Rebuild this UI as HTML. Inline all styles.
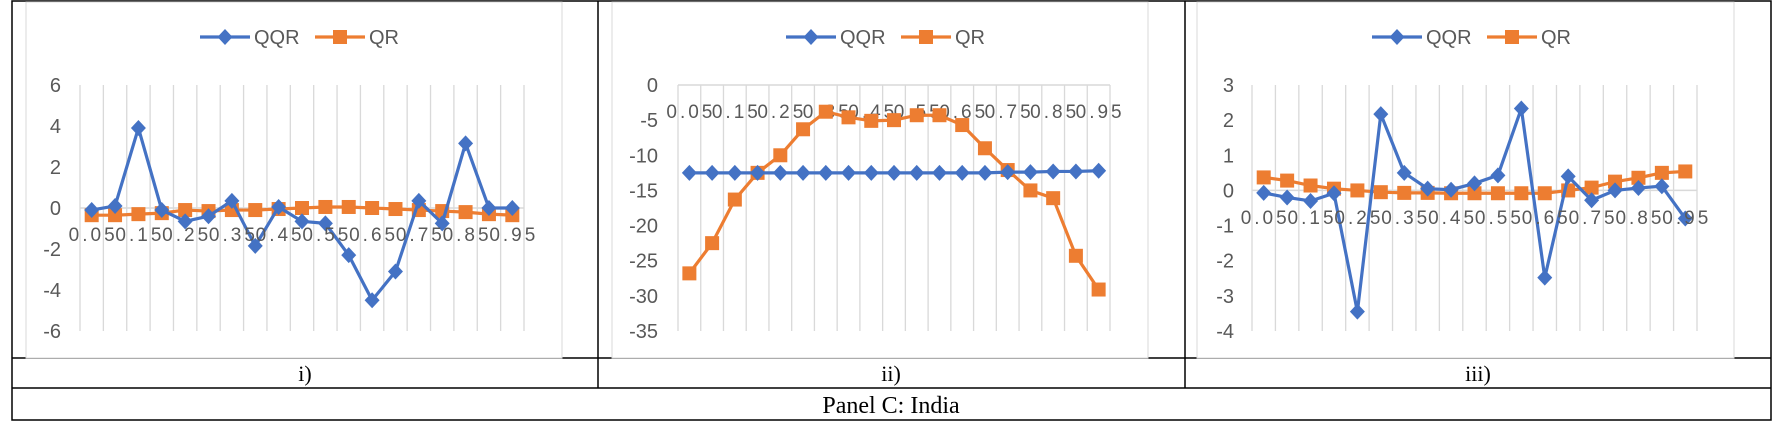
<!DOCTYPE html>
<html><head><meta charset="utf-8"><style>
html,body{margin:0;padding:0;background:#fff;}
svg{display:block;font-family:"Liberation Sans",sans-serif;}
</style></head><body>
<svg id="s" width="1783" height="422" viewBox="0 0 1783 422" xmlns="http://www.w3.org/2000/svg">
<g stroke="#000" stroke-width="1.5" fill="none">
<rect x="12" y="1" width="1759" height="419"/>
<line x1="12" y1="358" x2="1771" y2="358"/>
<line x1="12" y1="388" x2="1771" y2="388"/>
<line x1="598" y1="1" x2="598" y2="388"/>
<line x1="1185" y1="1" x2="1185" y2="388"/>
</g>
<text x="305" y="381" font-family="Liberation Serif,serif" font-size="22" text-anchor="middle">i)</text>
<text x="891" y="381" font-family="Liberation Serif,serif" font-size="22" text-anchor="middle">ii)</text>
<text x="1478" y="381" font-family="Liberation Serif,serif" font-size="22" text-anchor="middle">iii)</text>
<text x="891" y="413" font-family="Liberation Serif,serif" font-size="24" text-anchor="middle">Panel C: India</text>
</svg>
<script>
const categories=["0.05","0.10","0.15","0.20","0.25","0.30","0.35","0.40","0.45","0.50","0.55","0.60","0.65","0.70","0.75","0.80","0.85","0.90","0.95"];
const qqr1=[-0.1,0.1,3.9,-0.1,-0.65,-0.4,0.35,-1.85,0.05,-0.65,-0.75,-2.3,-4.5,-3.1,0.35,-0.75,3.15,0,0];
const qr1=[-0.35,-0.35,-0.3,-0.25,-0.1,-0.15,-0.1,-0.1,-0.05,0,0.05,0.05,0,-0.05,-0.1,-0.15,-0.2,-0.3,-0.35];
const ticks1=[6,4,2,0,-2,-4,-6];
const qqr2=[-12.5,-12.5,-12.5,-12.5,-12.5,-12.5,-12.5,-12.5,-12.5,-12.5,-12.5,-12.5,-12.5,-12.5,-12.4,-12.4,-12.3,-12.3,-12.2];
const qr2=[-26.8,-22.5,-16.3,-12.5,-10,-6.3,-3.8,-4.6,-5.1,-5.0,-4.3,-4.3,-5.7,-9,-12.1,-15,-16.1,-24.3,-29.1];
const ticks2=[0,-5,-10,-15,-20,-25,-30,-35];
const qqr3=[-0.07,-0.2,-0.3,-0.08,-3.45,2.17,0.5,0.05,0.02,0.2,0.43,2.33,-2.48,0.4,-0.28,0,0.07,0.12,-0.8];
const qr3=[0.37,0.28,0.14,0.05,0,-0.05,-0.07,-0.07,-0.08,-0.08,-0.08,-0.08,-0.08,0,0.08,0.25,0.36,0.5,0.54];
const ticks3=[3,2,1,0,-1,-2,-3,-4];

const NS="http://www.w3.org/2000/svg";
const svg=document.getElementById('s');
function mk(tag,attrs,parent){const e=document.createElementNS(NS,tag);for(const k in attrs)e.setAttribute(k,attrs[k]);(parent||svg).appendChild(e);return e;}

function chart(cfg){
  const g=mk('g',{});
  
  
  const area=mk('rect',{x:cfg.ax,y:2,width:cfg.aw,height:356,fill:'#fff',stroke:'#d9d9d9','stroke-width':1},g);
  
  
  const n=categories.length, step=(cfg.px1-cfg.px0)/n;
  const ymax=cfg.ticks[0], ymin=cfg.ticks[cfg.ticks.length-1];
  const xs=i=>cfg.px0+step*(i+0.5);
  const ys=v=>cfg.py0+(ymax-v)/(ymax-ymin)*(cfg.py1-cfg.py0);
  for(let i=0;i<=n;i++){
    const l=mk('line',{x1:cfg.px0+step*i,x2:cfg.px0+step*i,y1:cfg.py0,y2:cfg.py1,stroke:'#d9d9d9','stroke-width':1.3},g);
    
    
  }
  const ax=mk('line',{x1:cfg.px0,x2:cfg.px1,y1:ys(0),y2:ys(0),stroke:'#d9d9d9','stroke-width':1.5},g);
  
  
  cfg.ticks.forEach(t=>{
    const tx=mk('text',{x:cfg.lx,y:ys(t)+7,'text-anchor':'end','font-size':20,fill:'#595959'},g);
    tx.textContent=String(t);
    
    
  });
  const series=[[cfg.qr,'#ed7d31','square','qr'],[cfg.qqr,'#4472c4','diamond','qqr']];
  const drawSeries=(vals,col,shape,nm)=>{
    const pts=vals.map((v,i)=>xs(i)+','+ys(v)).join(' ');
    const pl=mk('polyline',{points:pts,fill:'none',stroke:col,'stroke-width':3.2,'stroke-linejoin':'round'},g);
    
    
    vals.forEach((v,i)=>{
      const x=xs(i),y=ys(v);let m;
      if(shape==='square') m=mk('rect',{x:x-7,y:y-7,width:14,height:14,fill:col},g);
      else m=mk('polygon',{points:`${x},${y-8} ${x+7.5},${y} ${x},${y+8} ${x-7.5},${y}`,fill:col},g);
      
      
    });
  };
  const labs=[];
  categories.forEach((c,i)=>{ if(i%2===0){
    const tx=mk('text',{x:xs(i)-23,y:cfg.xly,'font-size':19,fill:'#595959',textLength:46,lengthAdjust:'spacing'});
    tx.textContent=c;
    
    
    labs.push(tx);
  }});
  if(cfg.labelsOnTop){ series.forEach(s=>drawSeries(...s)); labs.forEach(l=>g.appendChild(l)); }
  else { labs.forEach(l=>g.appendChild(l)); series.forEach(s=>drawSeries(...s)); }
  const L=cfg.leg, ly=37;
  const l1=mk('line',{x1:L,x2:L+50,y1:ly,y2:ly,stroke:'#4472c4','stroke-width':3.2},g);
  
  
  mk('polygon',{points:`${L+25},${ly-8} ${L+32.5},${ly} ${L+25},${ly+8} ${L+17.5},${ly}`,fill:'#4472c4'},g);
  const t1=mk('text',{x:L+54,y:ly+7,'font-size':20,fill:'#595959'},g);t1.textContent='QQR';
  
  
  const L2=L+115;
  const l2=mk('line',{x1:L2,x2:L2+50,y1:ly,y2:ly,stroke:'#ed7d31','stroke-width':3.2},g);
  
  
  mk('rect',{x:L2+18,y:ly-7,width:14,height:14,fill:'#ed7d31'},g);
  const t2=mk('text',{x:L2+54,y:ly+7,'font-size':20,fill:'#595959'},g);t2.textContent='QR';
  
  
}
chart({name:'chart-i',ax:26,aw:536,px0:80,px1:524,py0:85,py1:331,lx:61,xly:241,ticks:ticks1,qqr:qqr1,qr:qr1,leg:200,labelsOnTop:true});
chart({name:'chart-ii',ax:612,aw:536,px0:678,px1:1110,py0:85,py1:331,lx:658,xly:118,ticks:ticks2,qqr:qqr2,qr:qr2,leg:786,labelsOnTop:false});
chart({name:'chart-iii',ax:1197,aw:537,px0:1252,px1:1697,py0:85,py1:331,lx:1234,xly:224,ticks:ticks3,qqr:qqr3,qr:qr3,leg:1372,labelsOnTop:true});
</script>
</body></html>
